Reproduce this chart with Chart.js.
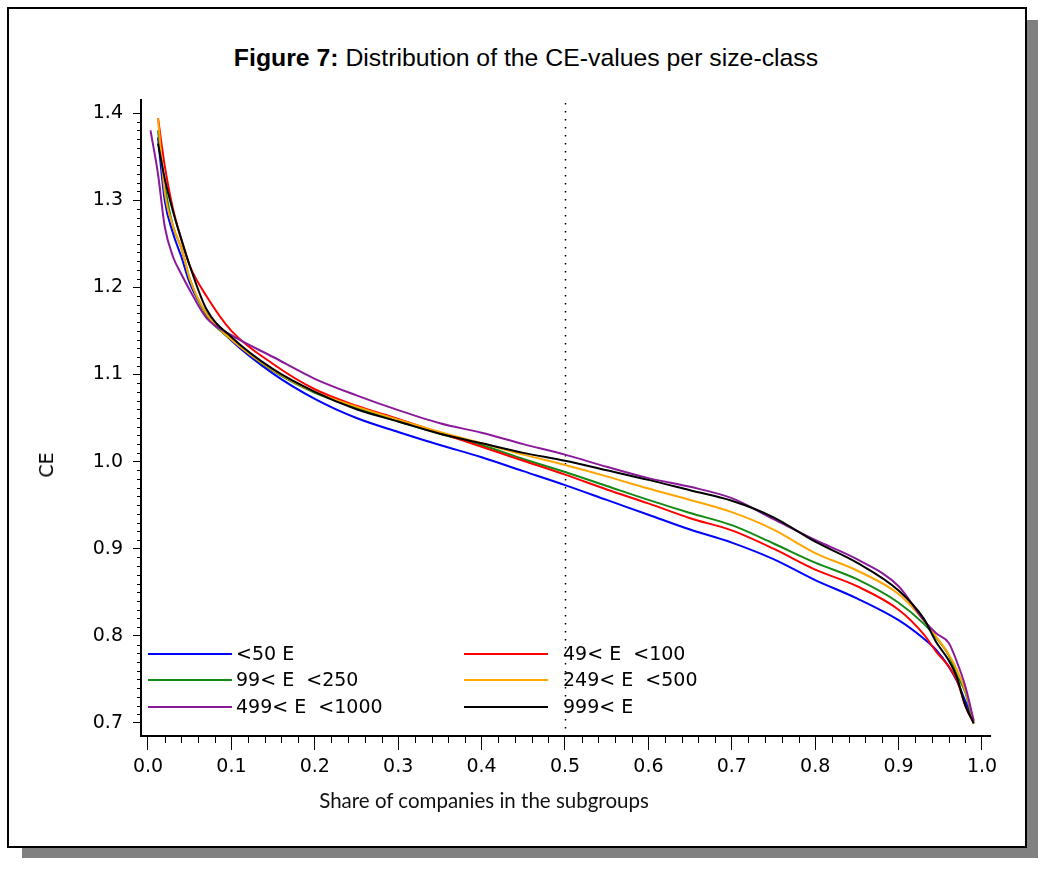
<!DOCTYPE html>
<html><head><meta charset="utf-8">
<script src="https://cdn.jsdelivr.net/npm/chart.js@4.4.0/dist/chart.umd.min.js"></script>
<style>
html,body{margin:0;padding:0;background:#fff;}
body{width:1040px;height:881px;position:relative;overflow:hidden;font-family:"Liberation Sans",Arial,sans-serif;}
#shadow{position:absolute;left:22px;top:20px;width:1016px;height:838px;background:#808080;}
#frame{position:absolute;left:7px;top:7px;width:1016px;height:837px;border:2px solid #000;background:#fff;}
#title{position:absolute;left:0;width:1052px;top:44px;text-align:center;font-size:24.8px;line-height:28px;color:#000;font-family:"Liberation Sans",Arial,sans-serif;}
#title b{font-weight:bold;}
#xtitle{position:absolute;left:0;width:968px;top:788px;text-align:center;font-family:Lato,"Open Sans",sans-serif;font-size:20.5px;line-height:24px;color:#111;}
#ytitle{position:absolute;left:46px;top:465px;transform:translate(-50%,-50%) rotate(-90deg);font-family:"DejaVu Sans",sans-serif;font-size:19px;color:#000;white-space:nowrap;}
canvas{position:absolute;left:0;top:0;}
.lgline{position:absolute;height:2px;}
.lgtext{position:absolute;font-family:"DejaVu Sans",sans-serif;font-size:19px;line-height:22px;color:#000;white-space:pre;}
</style></head>
<body>
<div id="shadow"></div>
<div id="frame"></div>
<div id="title"><b>Figure 7:</b> Distribution of the CE-values per size-class</div>
<canvas id="c" width="1040" height="881"></canvas>
<div id="xtitle">Share of companies in the subgroups</div>
<div id="ytitle">CE</div>
<div id="legend"></div>
<script>
// ---- data ----
const shares = [0.003,0.012,0.02,0.03,0.04,0.05,0.07,0.10,0.15,0.20,0.25,0.30,0.35,0.40,0.45,0.50,0.55,0.60,0.65,0.70,0.75,0.80,0.85,0.90,0.93,0.945,0.96,0.97,0.98,0.99];
const ceLt50     = [null,1.372,1.300,1.262,1.235,1.205,1.170,1.139,1.101,1.072,1.050,1.034,1.019,1.005,0.989,0.973,0.956,0.939,0.922,0.907,0.888,0.864,0.843,0.818,0.797,0.784,0.765,0.748,0.725,0.702];
const ce49to100  = [null,1.394,1.340,1.290,1.255,1.225,1.190,1.150,1.112,1.083,1.064,1.049,1.033,1.017,1.001,0.985,0.968,0.952,0.935,0.921,0.900,0.876,0.857,0.830,0.802,0.782,0.765,0.749,0.720,0.700];
const ce99to250  = [null,1.380,1.318,1.270,1.245,1.210,1.168,1.140,1.104,1.079,1.062,1.046,1.032,1.019,1.003,0.988,0.972,0.956,0.941,0.927,0.906,0.884,0.865,0.838,0.814,0.798,0.778,0.755,0.735,0.699];
const ce249to500 = [null,1.394,1.310,1.270,1.245,1.210,1.170,1.140,1.105,1.080,1.063,1.048,1.034,1.021,1.008,0.996,0.983,0.969,0.956,0.942,0.922,0.895,0.875,0.848,0.818,0.799,0.779,0.761,0.737,0.703];
const ce499to1000= [1.380,1.330,1.270,1.235,1.215,1.197,1.165,1.145,1.120,1.095,1.076,1.059,1.044,1.033,1.020,1.008,0.994,0.981,0.971,0.958,0.934,0.910,0.888,0.857,0.818,0.803,0.792,0.770,0.742,0.703];
const ceGt999    = [null,1.365,1.325,1.287,1.255,1.225,1.175,1.143,1.106,1.080,1.060,1.046,1.032,1.021,1.010,1.001,0.990,0.979,0.967,0.955,0.936,0.908,0.884,0.852,0.820,0.793,0.772,0.752,0.720,0.700];
const seriesLabels = ['<50 E','49< E  <100','99< E  <250','249< E  <500','499< E  <1000','999< E'];
const seriesColors = ['#0000ff','#ff0000','#138a13','#ffa500','#8b1a9b','#000000'];
const xTicks = [0.0,0.1,0.2,0.3,0.4,0.5,0.6,0.7,0.8,0.9,1.0];
const yTicks = [0.7,0.8,0.9,1.0,1.1,1.2,1.3,1.4];
const refShare = 0.5;

const seriesValues = [ceLt50, ce49to100, ce99to250, ce249to500, ce499to1000, ceGt999];
const drawOrder = [5,3,4,2,1,0]; // lower draws on top
const datasets = seriesValues.map((vals,i)=>({
  label: seriesLabels[i],
  data: shares.map((s,j)=>({x:s,y:vals[j]})).filter(p=>p.y!==null),
  borderColor: seriesColors[i],
  backgroundColor: seriesColors[i],
  borderWidth: 2,
  pointRadius: 0,
  fill: false,
  cubicInterpolationMode: 'monotone',
  order: drawOrder[i]
}));

const extras = {
  id:'extras',
  beforeDatasetsDraw(chart){
    const ctx=chart.ctx, xs=chart.scales.x, a=chart.chartArea;
    const px=Math.round(xs.getPixelForValue(refShare))+0.5;
    ctx.save();
    ctx.strokeStyle='#000'; ctx.lineWidth=1.5; ctx.setLineDash([1.5,6.5]);
    ctx.beginPath(); ctx.moveTo(px,a.top+3); ctx.lineTo(px,a.bottom); ctx.stroke();
    ctx.restore();
  },
  afterDraw(chart){
    const ctx=chart.ctx, xs=chart.scales.x, ys=chart.scales.y;
    ctx.save(); ctx.strokeStyle='#000'; ctx.lineWidth=1;
    for(let i=0;i<=50;i++){
      if(i%5===0) continue;
      const px=Math.round(xs.getPixelForValue(i/50))+0.5;
      ctx.beginPath(); ctx.moveTo(px,xs.top); ctx.lineTo(px,xs.top+7); ctx.stroke();
    }
    for(let i=70;i<=140;i++){
      if(i%10===0) continue;
      const py=Math.round(ys.getPixelForValue(i/100))+0.5;
      ctx.beginPath(); ctx.moveTo(ys.right-4,py); ctx.lineTo(ys.right,py); ctx.stroke();
    }
    ctx.restore();
  }
};

const tickFont = {family:'"DejaVu Sans", sans-serif', size:19};
new Chart(document.getElementById('c'), {
  type:'line',
  data:{datasets},
  options:{
    responsive:false, animation:false,
    layout:{padding:{top:100,right:50,bottom:0,left:0}},
    plugins:{legend:{display:false}, title:{display:false}, tooltip:{enabled:false}},
    scales:{
      x:{type:'linear', min:-0.00839, max:1.0096,
        afterBuildTicks(s){ s.ticks = xTicks.map(v=>({value:v})); },
        afterFit(s){ s.height = 145; },
        grid:{drawOnChartArea:false, drawTicks:true, tickLength:14, tickColor:'#000', tickWidth:1},
        border:{display:true, color:'#000', width:2},
        ticks:{font:tickFont, color:'#000', padding:6, maxRotation:0, autoSkip:false, callback:v=>Number(v).toFixed(1)}
      },
      y:{type:'linear', min:0.68508, max:1.41492,
        afterBuildTicks(s){ s.ticks = yTicks.map(v=>({value:v})); },
        afterFit(s){ s.width = 141; },
        grid:{drawOnChartArea:false, drawTicks:true, tickLength:8, tickColor:'#000', tickWidth:1},
        border:{display:true, color:'#000', width:2},
        ticks:{font:tickFont, color:'#000', padding:10, autoSkip:false, callback:v=>Number(v).toFixed(1)}
      }
    }
  },
  plugins:[extras]
});

// legend (2 columns x 3 rows, inside plot)
const lg = document.getElementById('legend');
const lgCols = [{x1:148,x2:232,tx:236},{x1:464,x2:548,tx:563}];
const lgRows = [654,680,707];
seriesLabels.forEach((lab,i)=>{
  const c = lgCols[i%2], r = lgRows[Math.floor(i/2)];
  const ln = document.createElement('div'); ln.className='lgline';
  ln.style.left=c.x1+'px'; ln.style.width=(c.x2-c.x1)+'px'; ln.style.top=(r-1)+'px'; ln.style.background=seriesColors[i];
  lg.appendChild(ln);
  const t = document.createElement('div'); t.className='lgtext';
  t.style.left=c.tx+'px'; t.style.top=(r-12)+'px'; t.textContent=lab;
  lg.appendChild(t);
});
</script>
</body></html>
